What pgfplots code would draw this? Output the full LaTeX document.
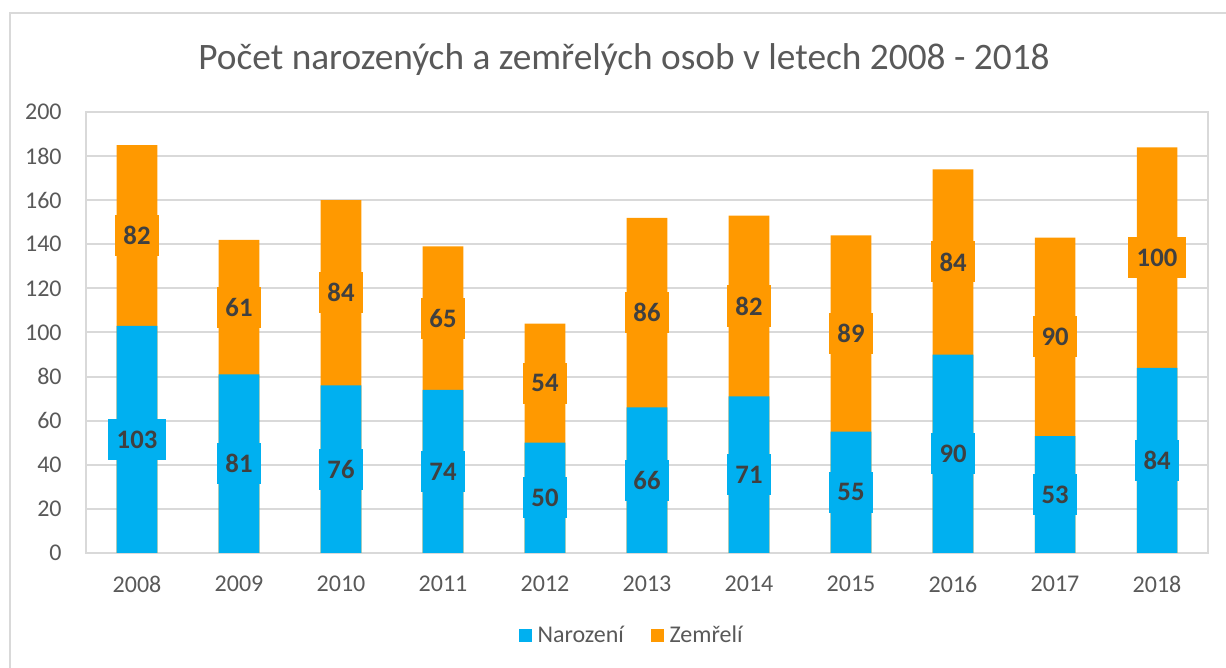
\documentclass[border=0pt]{standalone}
\usepackage{pgfplots}
\pgfplotsset{compat=1.18}
\usepackage{pgfplotstable}
\usepackage{fontspec}
\setmainfont{Carlito}
\definecolor{cblue}{HTML}{00B0F0}
\definecolor{corange}{HTML}{FF9900}
\definecolor{ctext}{HTML}{595959}
\definecolor{clabel}{HTML}{404040}
\definecolor{cgrid}{HTML}{D9D9D9}
\pgfplotstableread{
x year n z
0 2008 103 82
1 2009 81 61
2 2010 76 84
3 2011 74 65
4 2012 50 54
5 2013 66 86
6 2014 71 82
7 2015 55 89
8 2016 90 84
9 2017 53 90
10 2018 84 100
}\data
\begin{document}
\begin{tikzpicture}
\useasboundingbox (0,0) rectangle (459.75pt,250.5pt);
\draw[cgrid, line width=0.75pt] (3.75pt,-10pt) rectangle (480pt,245.6pt);
\node[anchor=base, font=\fontsize{14}{17}\selectfont, text=ctext, inner sep=0pt] at (234pt,224.25pt) {Počet narozených a zemřelých osob v letech 2008 - 2018};
\begin{axis}[
  at={(32.25pt,43.125pt)}, anchor=south west,
  scale only axis, width=420.75pt, height=165.375pt,
  xmin=-0.5, xmax=10.5, ymin=0, ymax=200,
  ytick={0,20,...,200},
  xtick={0,...,10},
  xticklabels={2008,2009,2010,2011,2012,2013,2014,2015,2016,2017,2018},
  ymajorgrids, grid style={cgrid, line width=0.75pt},
  axis line style={cgrid, line width=0.75pt},
  major tick length=0pt,
  tick label style={font=\fontsize{9}{11}\selectfont, text=ctext},
  /pgf/number format/assume math mode=true,
  yticklabel style={xshift=-5.6pt},
  xticklabel style={yshift=-5.25pt},
  legend columns=2,
  legend style={draw=none, fill=none, at={(0.488,-0.188)}, anchor=center,
    font=\fontsize{9}{11}\selectfont, text=ctext,
    /tikz/every even column/.append style={column sep=8.25pt}},
  legend image code/.code={\path[draw=none,#1] (0pt,-2.45pt) rectangle (4.9pt,2.45pt);},
]
\addlegendimage{fill=cblue}
\addlegendentry{Narození}
\addlegendimage{fill=corange}
\addlegendentry{Zemřelí}
\addplot[ybar, bar width=15.2pt, bar shift=0pt, fill=corange, draw=none, forget plot]
  table[x=x, y expr=\thisrow{n}+\thisrow{z}] {\data};
\addplot[ybar, bar width=15.2pt, bar shift=0pt, fill=cblue, draw=none, forget plot]
  table[x=x, y=n] {\data};
\addplot[draw=none, mark=none, forget plot, nodes near coords, point meta=explicit,
  every node near coord/.append style={anchor=center, fill=cblue, text=clabel,
    font=\bfseries\fontsize{10}{12}\selectfont, inner xsep=3.2pt, inner ysep=0pt, minimum height=15.4pt}]
  table[x=x, y expr=\thisrow{n}/2, meta=n] {\data};
\addplot[draw=none, mark=none, forget plot, nodes near coords, point meta=explicit,
  every node near coord/.append style={anchor=center, fill=corange, text=clabel,
    font=\bfseries\fontsize{10}{12}\selectfont, inner xsep=3.2pt, inner ysep=0pt, minimum height=15.4pt}]
  table[x=x, y expr=\thisrow{n}+\thisrow{z}/2, meta=z] {\data};
\end{axis}
\end{tikzpicture}
\end{document}
